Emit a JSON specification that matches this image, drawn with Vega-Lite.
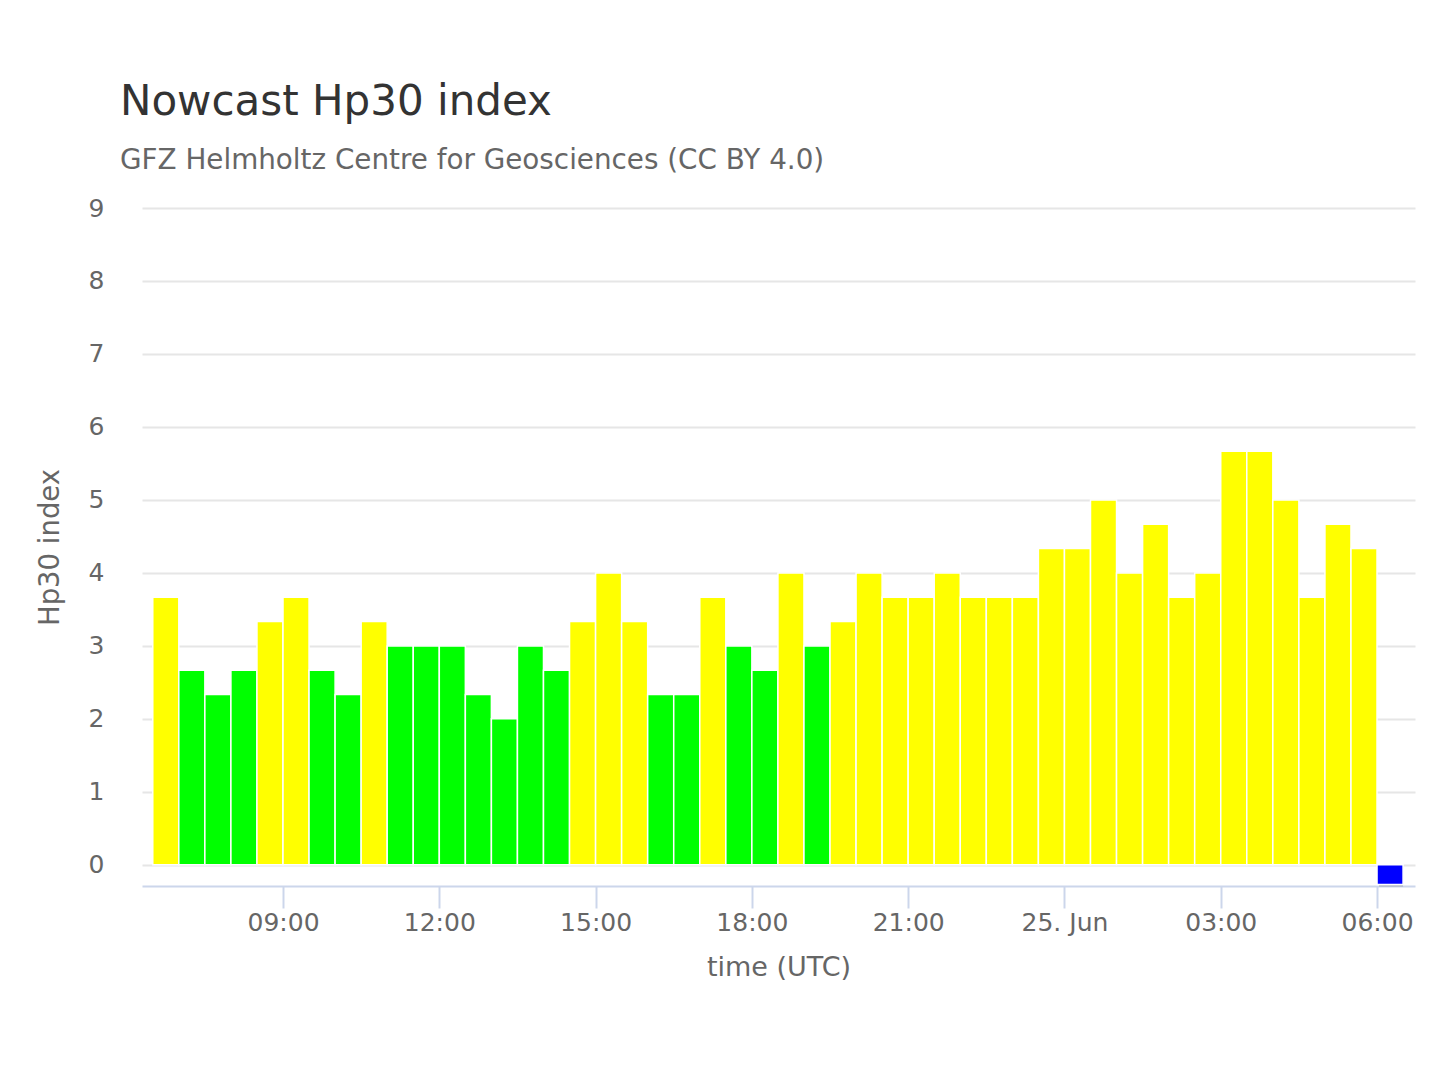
{
  "$schema": "https://vega.github.io/schema/vega-lite/v6.json",
  "autosize": {"type": "none"},
  "width": 1273,
  "height": 678,
  "padding": {"left": 142, "top": 208, "right": 25, "bottom": 194},
  "background": "#ffffff",
  "title": {
    "text": "Nowcast Hp30 index",
    "subtitle": "GFZ Helmholtz Centre for Geosciences (CC BY 4.0)",
    "anchor": "start",
    "frame": "group",
    "dx": -22,
    "offset": 20,
    "font": "DejaVu Sans",
    "fontSize": 42,
    "fontWeight": "normal",
    "color": "#333333",
    "subtitleFont": "DejaVu Sans",
    "subtitleFontSize": 27.8,
    "subtitleColor": "#666666",
    "subtitlePadding": 23
  },
  "data": {
    "values": [
      {"start": "2025-06-24T06:30:00Z", "end": "2025-06-24T07:00:00Z", "hp": 3.667},
      {"start": "2025-06-24T07:00:00Z", "end": "2025-06-24T07:30:00Z", "hp": 2.667},
      {"start": "2025-06-24T07:30:00Z", "end": "2025-06-24T08:00:00Z", "hp": 2.333},
      {"start": "2025-06-24T08:00:00Z", "end": "2025-06-24T08:30:00Z", "hp": 2.667},
      {"start": "2025-06-24T08:30:00Z", "end": "2025-06-24T09:00:00Z", "hp": 3.333},
      {"start": "2025-06-24T09:00:00Z", "end": "2025-06-24T09:30:00Z", "hp": 3.667},
      {"start": "2025-06-24T09:30:00Z", "end": "2025-06-24T10:00:00Z", "hp": 2.667},
      {"start": "2025-06-24T10:00:00Z", "end": "2025-06-24T10:30:00Z", "hp": 2.333},
      {"start": "2025-06-24T10:30:00Z", "end": "2025-06-24T11:00:00Z", "hp": 3.333},
      {"start": "2025-06-24T11:00:00Z", "end": "2025-06-24T11:30:00Z", "hp": 3.0},
      {"start": "2025-06-24T11:30:00Z", "end": "2025-06-24T12:00:00Z", "hp": 3.0},
      {"start": "2025-06-24T12:00:00Z", "end": "2025-06-24T12:30:00Z", "hp": 3.0},
      {"start": "2025-06-24T12:30:00Z", "end": "2025-06-24T13:00:00Z", "hp": 2.333},
      {"start": "2025-06-24T13:00:00Z", "end": "2025-06-24T13:30:00Z", "hp": 2.0},
      {"start": "2025-06-24T13:30:00Z", "end": "2025-06-24T14:00:00Z", "hp": 3.0},
      {"start": "2025-06-24T14:00:00Z", "end": "2025-06-24T14:30:00Z", "hp": 2.667},
      {"start": "2025-06-24T14:30:00Z", "end": "2025-06-24T15:00:00Z", "hp": 3.333},
      {"start": "2025-06-24T15:00:00Z", "end": "2025-06-24T15:30:00Z", "hp": 4.0},
      {"start": "2025-06-24T15:30:00Z", "end": "2025-06-24T16:00:00Z", "hp": 3.333},
      {"start": "2025-06-24T16:00:00Z", "end": "2025-06-24T16:30:00Z", "hp": 2.333},
      {"start": "2025-06-24T16:30:00Z", "end": "2025-06-24T17:00:00Z", "hp": 2.333},
      {"start": "2025-06-24T17:00:00Z", "end": "2025-06-24T17:30:00Z", "hp": 3.667},
      {"start": "2025-06-24T17:30:00Z", "end": "2025-06-24T18:00:00Z", "hp": 3.0},
      {"start": "2025-06-24T18:00:00Z", "end": "2025-06-24T18:30:00Z", "hp": 2.667},
      {"start": "2025-06-24T18:30:00Z", "end": "2025-06-24T19:00:00Z", "hp": 4.0},
      {"start": "2025-06-24T19:00:00Z", "end": "2025-06-24T19:30:00Z", "hp": 3.0},
      {"start": "2025-06-24T19:30:00Z", "end": "2025-06-24T20:00:00Z", "hp": 3.333},
      {"start": "2025-06-24T20:00:00Z", "end": "2025-06-24T20:30:00Z", "hp": 4.0},
      {"start": "2025-06-24T20:30:00Z", "end": "2025-06-24T21:00:00Z", "hp": 3.667},
      {"start": "2025-06-24T21:00:00Z", "end": "2025-06-24T21:30:00Z", "hp": 3.667},
      {"start": "2025-06-24T21:30:00Z", "end": "2025-06-24T22:00:00Z", "hp": 4.0},
      {"start": "2025-06-24T22:00:00Z", "end": "2025-06-24T22:30:00Z", "hp": 3.667},
      {"start": "2025-06-24T22:30:00Z", "end": "2025-06-24T23:00:00Z", "hp": 3.667},
      {"start": "2025-06-24T23:00:00Z", "end": "2025-06-24T23:30:00Z", "hp": 3.667},
      {"start": "2025-06-24T23:30:00Z", "end": "2025-06-25T00:00:00Z", "hp": 4.333},
      {"start": "2025-06-25T00:00:00Z", "end": "2025-06-25T00:30:00Z", "hp": 4.333},
      {"start": "2025-06-25T00:30:00Z", "end": "2025-06-25T01:00:00Z", "hp": 5.0},
      {"start": "2025-06-25T01:00:00Z", "end": "2025-06-25T01:30:00Z", "hp": 4.0},
      {"start": "2025-06-25T01:30:00Z", "end": "2025-06-25T02:00:00Z", "hp": 4.667},
      {"start": "2025-06-25T02:00:00Z", "end": "2025-06-25T02:30:00Z", "hp": 3.667},
      {"start": "2025-06-25T02:30:00Z", "end": "2025-06-25T03:00:00Z", "hp": 4.0},
      {"start": "2025-06-25T03:00:00Z", "end": "2025-06-25T03:30:00Z", "hp": 5.667},
      {"start": "2025-06-25T03:30:00Z", "end": "2025-06-25T04:00:00Z", "hp": 5.667},
      {"start": "2025-06-25T04:00:00Z", "end": "2025-06-25T04:30:00Z", "hp": 5.0},
      {"start": "2025-06-25T04:30:00Z", "end": "2025-06-25T05:00:00Z", "hp": 3.667},
      {"start": "2025-06-25T05:00:00Z", "end": "2025-06-25T05:30:00Z", "hp": 4.667},
      {"start": "2025-06-25T05:30:00Z", "end": "2025-06-25T06:00:00Z", "hp": 4.333},
      {"start": "2025-06-25T06:00:00Z", "end": "2025-06-25T06:30:00Z", "hp": -0.27}
    ]
  },
  "encoding": {
    "x": {
      "field": "start",
      "type": "temporal",
      "title": "time (UTC)",
      "scale": {
        "type": "utc",
        "domain": [
          {"year": 2025, "month": 6, "date": 24, "hours": 6, "minutes": 17, "seconds": 36, "utc": true},
          {"year": 2025, "month": 6, "date": 25, "hours": 6, "minutes": 43, "seconds": 44, "utc": true}
        ]
      },
      "axis": {
        "values": [
          {"year": 2025, "month": 6, "date": 24, "hours": 9, "utc": true},
          {"year": 2025, "month": 6, "date": 24, "hours": 12, "utc": true},
          {"year": 2025, "month": 6, "date": 24, "hours": 15, "utc": true},
          {"year": 2025, "month": 6, "date": 24, "hours": 18, "utc": true},
          {"year": 2025, "month": 6, "date": 24, "hours": 21, "utc": true},
          {"year": 2025, "month": 6, "date": 25, "hours": 0, "utc": true},
          {"year": 2025, "month": 6, "date": 25, "hours": 3, "utc": true},
          {"year": 2025, "month": 6, "date": 25, "hours": 6, "utc": true}
        ],
        "labelExpr": "utchours(datum.value) == 0 ? utcFormat(datum.value, '%d. %b') : utcFormat(datum.value, '%H:%M')",
        "grid": false,
        "domainColor": "#ccd6eb",
        "domainWidth": 2,
        "tickColor": "#ccd6eb",
        "tickWidth": 2,
        "tickSize": 22,
        "labelFont": "DejaVu Sans",
        "labelFontSize": 25,
        "labelColor": "#666666",
        "labelPadding": 2,
        "labelFlush": false,
        "labelOverlap": false,
        "titleFont": "DejaVu Sans",
        "titleFontSize": 27,
        "titleFontWeight": "normal",
        "titleColor": "#666666",
        "titleBaseline": "alphabetic",
        "titleY": 89
      }
    },
    "x2": {"field": "end"},
    "y": {
      "field": "hp",
      "type": "quantitative",
      "title": "Hp30 index",
      "scale": {"domain": [-0.29, 9], "nice": false, "zero": false},
      "axis": {
        "values": [0, 1, 2, 3, 4, 5, 6, 7, 8, 9],
        "domain": false,
        "ticks": false,
        "gridColor": "#e6e6e6",
        "gridWidth": 2,
        "labelFont": "DejaVu Sans",
        "labelFontSize": 25,
        "labelColor": "#666666",
        "labelPadding": 38,
        "labelBaseline": "middle",
        "titleFont": "DejaVu Sans",
        "titleFontSize": 27.5,
        "titleFontWeight": "normal",
        "titleColor": "#666666",
        "titleAngle": -90,
        "titleAlign": "center",
        "titleBaseline": "middle",
        "titleX": -92,
        "titleY": 339
      }
    },
    "y2": {"datum": 0}
  },
  "layer": [
    {
      "mark": {"type": "bar", "color": "#000000", "opacity": 0.2, "xOffset": 2, "yOffset": 2, "cornerRadius": 0}
    },
    {
      "mark": {"type": "bar", "stroke": "#ffffff", "strokeWidth": 1.5, "cornerRadius": 0},
      "encoding": {
        "color": {
          "field": "hp",
          "type": "quantitative",
          "scale": {"type": "threshold", "domain": [0, 3.1], "range": ["#0000ff", "#00ff00", "#ffff00"]},
          "legend": null
        }
      }
    }
  ],
  "config": {
    "view": {"stroke": null},
    "font": "DejaVu Sans"
  }
}
